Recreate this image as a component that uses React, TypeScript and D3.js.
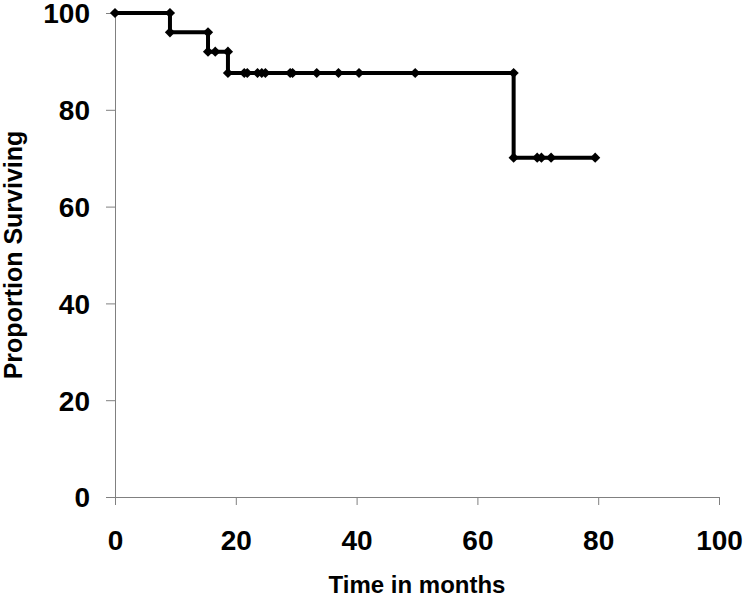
import React, { useEffect, useRef } from "react";
import * as d3 from "d3";

// Kaplan-Meier curve, corner points as plotted (time in months, % surviving)
const times = [0, 9.1, 9.1, 15.4, 15.4, 16.6, 18.7, 18.7, 21.4, 21.9, 23.6, 24.3, 24.9, 29.0, 29.4, 33.4, 37.0, 40.4, 49.7, 66.0, 66.0, 69.9, 70.6, 72.2, 79.5];
const survival = [100, 100, 96, 96, 92, 92, 92, 87.6, 87.6, 87.6, 87.6, 87.6, 87.6, 87.6, 87.6, 87.6, 87.6, 87.6, 87.6, 87.6, 70.1, 70.1, 70.1, 70.1, 70.1];

const xTicks = [0, 20, 40, 60, 80, 100];
const yTicks = [0, 20, 40, 60, 80, 100];

const xTitle = "Time in months";
const yTitle = "Proportion Surviving";

export default function App() {
    const svgRef = useRef<SVGSVGElement>(null);
    const width = 747;
    const height = 599;
    const marginLeft = 115;
    const marginRight = 28;
    const marginTop = 13;
    const marginBottom = 102;
    const font = "'Liberation Sans', Arial, sans-serif";

    useEffect(() => {
        const svg = d3.select(svgRef.current);
        svg.selectAll("*").remove();

        const x = d3.scaleLinear().domain([0, 100]).range([marginLeft, width - marginRight]);
        const y = d3.scaleLinear().domain([0, 100]).range([height - marginBottom, marginTop]);

        // x axis
        svg.append("g")
            .attr("transform", `translate(0,${y(0)})`)
            .call(d3.axisBottom(x).tickValues(xTicks).tickSize(8).tickSizeOuter(8).tickFormat(d3.format("d")))
            .call(g => g.selectAll(".domain, line").attr("stroke", "#808080"))
            .call(g => g.selectAll("text")
                .attr("y", 43)
                .attr("dy", "0.35em")
                .attr("fill", "#000")
                .attr("font-family", font)
                .attr("font-weight", "bold")
                .attr("font-size", 28));

        // y axis
        svg.append("g")
            .attr("transform", `translate(${x(0)},0)`)
            .call(d3.axisLeft(y).tickValues(yTicks).tickSize(9).tickSizeOuter(0).tickFormat(d3.format("d")))
            .call(g => g.selectAll(".domain, line").attr("stroke", "#808080"))
            .call(g => g.selectAll("text")
                .attr("x", -25)
                .attr("dy", "0.35em")
                .attr("fill", "#000")
                .attr("font-family", font)
                .attr("font-weight", "bold")
                .attr("font-size", 28));

        const pts = times.map((t, i) => [t, survival[i]] as [number, number]);

        svg.append("path")
            .datum(pts)
            .attr("fill", "none")
            .attr("stroke", "#000")
            .attr("stroke-width", 4)
            .attr("stroke-linejoin", "miter")
            .attr("d", d3.line<[number, number]>().x(d => x(d[0])).y(d => y(d[1])));

        svg.append("g")
            .selectAll("path")
            .data(pts)
            .join("path")
            .attr("transform", d => `translate(${x(d[0])},${y(d[1])}) rotate(45)`)
            .attr("d", d3.symbol(d3.symbolSquare, 52)())
            .attr("fill", "#000");

        // titles
        svg.append("text")
            .attr("x", (x(0) + x(100)) / 2)
            .attr("y", 593)
            .attr("text-anchor", "middle")
            .attr("font-family", font)
            .attr("font-weight", "bold")
            .attr("font-size", 24)
            .text(xTitle);

        svg.append("text")
            .attr("transform", `translate(22,${(y(0) + y(100)) / 2}) rotate(-90)`)
            .attr("text-anchor", "middle")
            .attr("font-family", font)
            .attr("font-weight", "bold")
            .attr("font-size", 25)
            .text(yTitle);
    }, []);

    return (
        <svg
            ref={svgRef}
            width={width}
            height={height}
            style={{ position: "absolute", left: 0, top: 0, background: "#fff" }}
        />
    );
}
